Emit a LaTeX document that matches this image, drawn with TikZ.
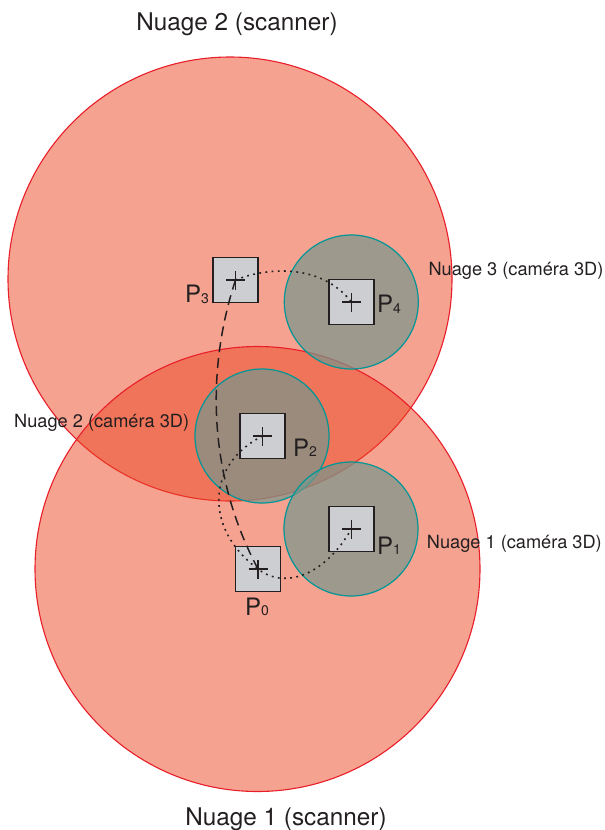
\documentclass[tikz,border=0pt]{standalone}
\usepackage{fontspec}
\setmainfont{TeX Gyre Heros}
\definecolor{bigfill}{RGB}{235,70,35}
\definecolor{bigedge}{RGB}{232,30,40}
\definecolor{smallfill}{RGB}{120,150,140}
\definecolor{smalledge}{RGB}{0,150,150}
\definecolor{sqfill}{RGB}{205,206,210}
\definecolor{ink}{RGB}{35,31,32}
\newcommand\Plbl[1]{\fontsize{24}{28}\selectfont P\raisebox{-0.5pt}{\fontsize{14}{16}\selectfont #1}}
\tikzset{
  bigcloud/.style={circle,inner sep=0,draw=bigedge,line width=1.1pt,fill=bigfill,fill opacity=0.5,draw opacity=1},
  smallcloud/.style={circle,inner sep=0,minimum size=134pt,draw=smalledge,line width=1.2pt,fill=smallfill,fill opacity=0.7,draw opacity=1},
  posbox/.style={rectangle,inner sep=0,minimum size=45pt,draw=ink,line width=1.5pt,fill=sqfill},
  crossmark/.style={draw=ink,line width=1.3pt},
  title/.style={inner sep=0,text=ink,font=\fontsize{24.3}{28}\selectfont},
  clabel/.style={inner sep=0,text=ink,font=\fontsize{18.2}{22}\selectfont},
  plabel/.style={inner sep=0,text=ink},
  traj/.style={draw=ink,line width=1.5pt,dash pattern=on 10pt off 6pt},
  dotpath/.style={draw=ink,line width=1.6pt,dash pattern=on 1.8pt off 4.4pt}
}
\begin{document}
\begin{tikzpicture}[x=1pt,y=-1pt]
\useasboundingbox (0,0) rectangle (605,830);
% big clouds
\node[bigcloud,minimum size=444pt] (c2s) at (230,279) {};
\node[bigcloud,minimum size=445pt] (c1s) at (257.5,569) {};
% small clouds
\node[smallcloud] (c3c) at (351.3,302) {};
\node[smallcloud] (c2c) at (262,436) {};
\node[smallcloud] (c1c) at (351,529) {};
% positions
\node[posbox] (p3) at (235.5,280) {};
\node[posbox] (p4) at (351.4,302) {};
\node[posbox] (p2) at (262.5,436) {};
\node[posbox] (p1) at (351.4,529) {};
\node[posbox] (p0) at (258,569) {};
\foreach \p in {p0,p1,p2,p3,p4}{
  \draw[crossmark] ([xshift=-9.5pt]\p.center) -- ([xshift=9.5pt]\p.center);
  \draw[crossmark] ([yshift=-9.5pt]\p.center) -- ([yshift=9.5pt]\p.center);
}
% trajectories
\draw[traj] (p3.center) .. controls (206,370) and (208,475) .. (p0.center);
\draw[dotpath] (p3.center) .. controls (265,268) and (320,262) .. (p4.center);
\draw[dotpath] (p2.center) .. controls (205,465) and (205,530) .. (p0.center)
  .. controls (285,590) and (325,575) .. (p1.center);
% point labels
\node[plabel,anchor=base east] (l3) at (209,302.5) {\Plbl{3}};
\node[plabel,anchor=base west] (l4) at (377,312.7) {\Plbl{4}};
\node[plabel,anchor=base west] (l2) at (293,456) {\Plbl{2}};
\node[plabel,anchor=base west] (l1) at (377,554) {\Plbl{1}};
\node[plabel,anchor=base west] (l0) at (245,615) {\Plbl{0}};
% cloud labels
\node[title,anchor=base] (t2) at (237,30) {Nuage 2 (scanner)};
\node[title,anchor=base] (t1) at (286,825) {Nuage 1 (scanner)};
\node[clabel,anchor=base west] (n3) at (428.3,275) {Nuage 3 (caméra 3D)};
\node[clabel,anchor=base west] (n2) at (14,427.3) {Nuage 2 (caméra 3D)};
\node[clabel,anchor=base west] (n1) at (426.7,548.3) {Nuage 1 (caméra 3D)};
\end{tikzpicture}
\end{document}
